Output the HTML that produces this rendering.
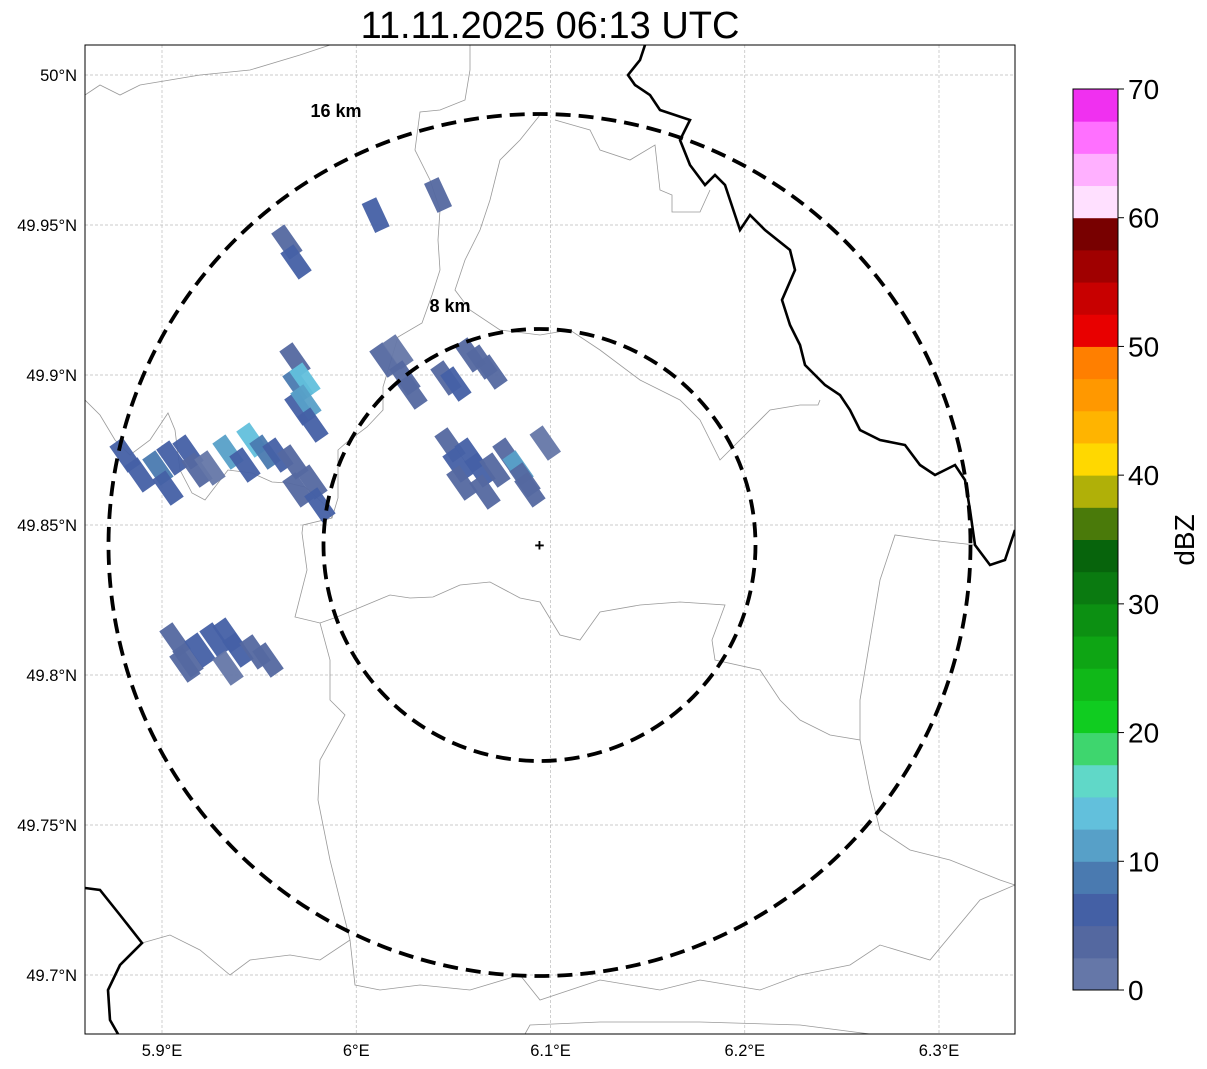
<!DOCTYPE html>
<html><head><meta charset="utf-8"><style>
html,body{margin:0;padding:0;background:#fff;}
svg{display:block;font-family:"Liberation Sans","DejaVu Sans",sans-serif;}
</style></head><body>
<svg id="chart" width="1207" height="1069" viewBox="0 0 1207 1069">
<text x="550" y="38" font-size="38" text-anchor="middle">11.11.2025 06:13 UTC</text>
<defs><clipPath id="mapclip"><rect x="85" y="45" width="930" height="989"/></clipPath></defs>
<g id="grid"></g>
<g clip-path="url(#mapclip)">
<g id="borders" fill="none">
<polyline stroke="#999" stroke-width="0.8" points="85,95 100,85 120,95 140,85 170,80 200,75 250,70 300,55 330,45"/>
<polyline stroke="#999" stroke-width="0.8" points="470,45 470,70 465,100 440,110 420,112 415,150 430,180 440,210 438,240 440,270 432,295 422,323 398,337 383,387 383,410 367,427 347,442 338,450 338,498 332,518 303,525 302,533 307,570 295,617 320,623 337,617 390,595 410,598 433,597 460,585 490,582 520,598 540,602 560,635 580,640 600,612 640,605 680,602 725,605 712,640 715,660 760,670 780,700 800,720 830,735 860,740 870,790 880,830 910,850 950,860 1000,880 1015,885"/>
<polyline stroke="#999" stroke-width="0.8" points="85,400 100,415 115,440 130,455 150,440 168,413 175,430 180,470 192,493 205,500 228,470 252,473 272,482 288,483 305,487 325,505 332,518"/>
<polyline stroke="#999" stroke-width="0.8" points="540,115 520,140 500,160 490,200 480,230 465,260 455,290 470,310 500,330 540,335 570,330 600,350 640,380 680,400 700,420 720,460 740,440 770,410 800,405 818,405 820,400"/>
<polyline stroke="#999" stroke-width="0.8" points="555,120 590,130 600,150 630,160 655,145 660,190 672,195 672,212 700,212 710,190"/>
<polyline stroke="#999" stroke-width="0.8" points="320,623 330,660 330,700 345,715 320,760 318,800 330,860 340,900 350,940 355,985 380,990 420,985 470,990 520,975 540,1000 600,980 660,990 700,980 760,990 800,975 850,965 880,945 930,960 980,900 1015,885"/>
<polyline stroke="#999" stroke-width="0.8" points="142,943 170,935 200,950 230,975 250,960 290,955 320,960 350,940"/>
<polyline stroke="#999" stroke-width="0.8" points="975,545 930,540 895,535 880,580 870,640 860,700 860,740"/>
<polyline stroke="#999" stroke-width="0.8" points="525,1034 530,1025 600,1022 700,1022 800,1025 870,1034"/>
<polyline stroke="#000" stroke-width="2.6" points="645,45 640,60 628,75 635,85 650,95 660,110 690,120 680,140 690,165 705,185 715,175 725,185 730,200 740,230 750,215 765,230 790,250 795,270 782,300 790,325 800,345 805,365 825,385 840,395 850,410 860,430 880,440 905,445 920,465 935,475 955,465 965,480 970,510 975,545 990,565 1005,560 1015,530"/>
<polyline stroke="#000" stroke-width="2.6" points="85,888 100,890 120,915 142,943 120,965 108,990 110,1020 118,1034"/>
</g>
<g id="cells"></g>
<circle cx="539.5" cy="545" r="431" fill="none" stroke="#000" stroke-width="3.8" stroke-dasharray="15,8"/>
<circle cx="539.5" cy="545" r="216" fill="none" stroke="#000" stroke-width="3.8" stroke-dasharray="15,8"/>
</g>
<text x="336" y="117" font-size="18" font-weight="bold" text-anchor="middle">16 km</text>
<text x="450" y="312" font-size="18" font-weight="bold" text-anchor="middle">8 km</text>
<text x="539.5" y="551" font-size="17" font-weight="bold" text-anchor="middle">+</text>
<rect x="85" y="45" width="930" height="989" fill="none" stroke="#000" stroke-width="1"/>
<g id="axes"></g>
<g id="cbar"></g>
<text transform="translate(1194,540) rotate(-90)" font-size="28" text-anchor="middle">dBZ</text>
</svg>
<script>
const cellLon=[5.881,5.8887,5.8979,5.9051,5.9134,5.9031,5.918,5.9247,5.934,5.9427,5.9463,5.953,5.9597,5.9674,5.97,5.9772,5.9813,5.9685,5.97,5.9736,5.971,5.9741,5.9777,5.9643,5.969,6.01,6.0421,6.0148,6.0215,6.0251,6.0287,6.0462,6.0513,6.0586,6.0647,6.0699,6.0483,6.0524,6.0586,6.0637,6.0714,6.0781,6.0833,6.0869,6.0894,6.0544,6.0663,6.0973,5.9067,5.9134,5.9196,5.9273,5.934,5.9391,5.9479,5.9546,5.934,5.9118];
const cellLat=[49.8733,49.8667,49.869,49.8723,49.8743,49.8623,49.8683,49.869,49.8743,49.87,49.8783,49.8743,49.8733,49.871,49.8617,49.8643,49.8567,49.905,49.8967,49.8983,49.889,49.891,49.8833,49.9443,49.9377,49.9533,49.96,49.905,49.9077,49.899,49.8943,49.899,49.897,49.9067,49.9043,49.901,49.8767,49.87,49.8733,49.8683,49.8683,49.8733,49.869,49.865,49.8617,49.864,49.861,49.8773,49.8117,49.805,49.8083,49.8117,49.8133,49.8083,49.8077,49.805,49.8023,49.8033];
const cellDbz=[5,6,9,7,6,5,3,2,11,6,13,8,5,3,3,3,6,3,9,14,7,10,6,3,6,5,4,3,2,3,3,3,6,3,3,3,3,5,6,7,3,3,11,4,3,4,3,2,3,4,6,5,6,5,3,3,2,3];
const latTicks=[50,49.95,49.9,49.85,49.8,49.75,49.7];
const latLabels=["50°N","49.95°N","49.9°N","49.85°N","49.8°N","49.75°N","49.7°N"];
const lonTicks=[5.9,6.0,6.1,6.2,6.3];
const lonLabels=["5.9°E","6°E","6.1°E","6.2°E","6.3°E"];
const cbarTicks=[0,10,20,30,40,50,60,70];
const cbarColors=["#6577a8","#5468a0","#4460a5","#4a7ab0","#57a0c8","#62c0dc","#60d8c8","#3ed66e","#10cc20","#10b818","#0ea514","#0c9012","#0a7a10","#07640c","#4a7a0a","#b0b008","#ffd800","#ffb400","#ff9800","#ff7f00","#e80000","#c80000","#a00000","#780000","#ffe0ff","#ffb0ff","#ff70ff","#f030f0"];
const NS="http://www.w3.org/2000/svg";
function xs(lon){return 162+(lon-5.9)*1942.5;}
function ys(lat){return 525-(lat-49.85)*3000;}
function cy(v){return 990-v*(901/70);}
function colorFor(v){return cbarColors[Math.max(0,Math.min(27,Math.floor(v/2.5)))];}
const grid=document.getElementById('grid');
latTicks.forEach(function(t){
  const l=document.createElementNS(NS,'line');
  
  
  l.setAttribute('x1',85);l.setAttribute('x2',1015);l.setAttribute('y1',ys(t));l.setAttribute('y2',ys(t));
  l.setAttribute('stroke','#bbb');l.setAttribute('stroke-width','0.7');l.setAttribute('stroke-dasharray','3,2');
  grid.appendChild(l);
});
lonTicks.forEach(function(t){
  const l=document.createElementNS(NS,'line');
  
  
  l.setAttribute('y1',45);l.setAttribute('y2',1034);l.setAttribute('x1',xs(t));l.setAttribute('x2',xs(t));
  l.setAttribute('stroke','#bbb');l.setAttribute('stroke-width','0.7');l.setAttribute('stroke-dasharray','3,2');
  grid.appendChild(l);
});
const axes=document.getElementById('axes');
latTicks.forEach(function(t,i){
  const tx=document.createElementNS(NS,'text');
  
  
  tx.setAttribute('x',77);tx.setAttribute('y',ys(t)+6);tx.setAttribute('font-size','16.5');tx.setAttribute('text-anchor','end');
  tx.textContent=latLabels[i];axes.appendChild(tx);
});
lonTicks.forEach(function(t,i){
  const tx=document.createElementNS(NS,'text');
  
  
  tx.setAttribute('x',xs(t));tx.setAttribute('y',1056);tx.setAttribute('font-size','16.5');tx.setAttribute('text-anchor','middle');
  tx.textContent=lonLabels[i];axes.appendChild(tx);
});
const cells=document.getElementById('cells');
cellLon.forEach(function(lon,i){
  const x=xs(lon),y=ys(cellLat[i]);
  const ang=lon>6.0&&cellLat[i]>49.94?65:55;
  const r=document.createElementNS(NS,'rect');
  
  
  const L=32,W=16;
  r.setAttribute('x',x-L/2);r.setAttribute('y',y-W/2);r.setAttribute('width',L);r.setAttribute('height',W);
  r.setAttribute('fill',colorFor(cellDbz[i]));r.setAttribute('opacity','0.95');
  r.setAttribute('transform','rotate('+ang+' '+x+' '+y+')');
  cells.appendChild(r);
});
const cb=document.getElementById('cbar');
cbarColors.forEach(function(c,i){
  const r=document.createElementNS(NS,'rect');
  
  
  const v0=i*2.5,v1=v0+2.5;
  r.setAttribute('x',1073);r.setAttribute('y',cy(v1));r.setAttribute('width',45);r.setAttribute('height',cy(v0)-cy(v1)+0.5);
  r.setAttribute('fill',c);cb.appendChild(r);
});
const fr=document.createElementNS(NS,'rect');


fr.setAttribute('x',1073);fr.setAttribute('y',89);fr.setAttribute('width',45);fr.setAttribute('height',901);
fr.setAttribute('fill','none');fr.setAttribute('stroke','#000');fr.setAttribute('stroke-width','1');cb.appendChild(fr);
cbarTicks.forEach(function(t){
  const l=document.createElementNS(NS,'line');
  
  
  l.setAttribute('x1',1118);l.setAttribute('x2',1124);l.setAttribute('y1',cy(t));l.setAttribute('y2',cy(t));l.setAttribute('stroke','#000');
  cb.appendChild(l);
  const tx=document.createElementNS(NS,'text');
  
  
  tx.setAttribute('x',1128);tx.setAttribute('y',cy(t)+10);tx.setAttribute('font-size','28');
  tx.textContent=String(t);cb.appendChild(tx);
});
</script>
</body></html>
